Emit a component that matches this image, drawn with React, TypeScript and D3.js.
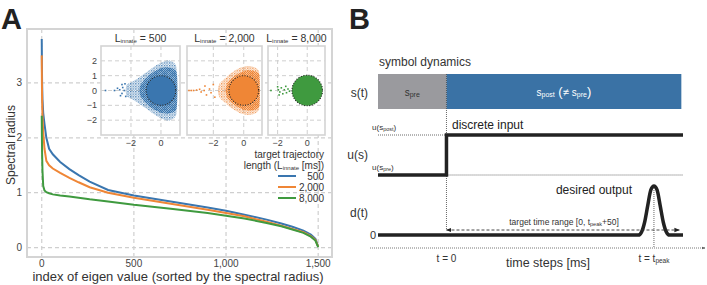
import React from "react";
import * as d3 from "d3";

const FONT = "'Liberation Sans', Arial, Helvetica, sans-serif";
const TICK = "#444";
const GRID = "#cfcfcf";
const FRAME = "#d4d4d4";

// ---- panel A: sorted spectral radius ----
const eigenIndex = [0, 1, 2, 4, 8, 15, 25, 40, 60, 100, 150, 200, 260, 360, 500, 700, 900, 1000, 1100, 1220, 1300, 1360, 1420, 1460, 1485, 1500];
const radius500 = [3.8, 3.3, 3.0, 2.7, 2.45, 2.25, 2.0, 1.8, 1.7, 1.56, 1.43, 1.32, 1.2, 1.05, 0.95, 0.84, 0.73, 0.67, 0.6, 0.51, 0.44, 0.38, 0.31, 0.24, 0.16, 0.02];
const radius2000 = [3.5, 3.0, 2.7, 2.4, 2.1, 1.8, 1.58, 1.5, 1.44, 1.36, 1.27, 1.19, 1.1, 1.0, 0.91, 0.8, 0.69, 0.63, 0.57, 0.47, 0.4, 0.34, 0.28, 0.21, 0.14, 0.02];
const radius8000 = [2.4, 2.0, 1.7, 1.4, 1.12, 1.04, 1.01, 0.99, 0.97, 0.95, 0.93, 0.91, 0.88, 0.84, 0.78, 0.71, 0.63, 0.58, 0.53, 0.45, 0.39, 0.33, 0.27, 0.2, 0.13, 0.01];
const seriesLabels = ["500", "2,000", "8,000"];
const seriesColors = ["#3a76af", "#ef8636", "#3f9a3f"];
const xTicksA = [0, 500, 1000, 1500];
const yTicksA = [0, 1, 2, 3];

// ---- insets: eigenvalues in the complex plane ----
const insetXTicks = [-2, 0];
const insetYTicks = [-2, -1, 0, 1, 2];
const diskRadius = [1, 1, 1.03];
const halo500: [number, number][] = [[1.05, 1.5], [0.6, 2.0], [0.2, 1.95], [-0.3, 1.7], [-0.8, 1.35], [-1.3, 1.0], [-1.8, 0.65], [-2.3, 0.35], [-2.3, -0.35], [-1.8, -0.65], [-1.3, -1.0], [-0.8, -1.35], [-0.3, -1.7], [0.2, -1.95], [0.6, -2.0], [1.05, -1.5]];
const haloCore500: [number, number][] = [[1.05, 1.2], [0.5, 1.55], [0.0, 1.5], [-0.6, 1.2], [-1.1, 0.75], [-1.4, 0.3], [-1.4, -0.3], [-1.1, -0.75], [-0.6, -1.2], [0.0, -1.5], [0.5, -1.55], [1.05, -1.2]];
const halo2000: [number, number][] = [[1.02, 1.2], [0.6, 1.6], [0.2, 1.65], [-0.3, 1.5], [-0.8, 1.2], [-1.2, 0.85], [-1.6, 0.45], [-1.7, 0], [-1.6, -0.45], [-1.2, -0.85], [-0.8, -1.2], [-0.3, -1.5], [0.2, -1.65], [0.6, -1.6], [1.02, -1.2]];
const haloCore2000: [number, number][] = [[1.02, 1.05], [0.5, 1.35], [0.0, 1.3], [-0.6, 1.0], [-1.05, 0.55], [-1.2, 0], [-1.05, -0.55], [-0.6, -1.0], [0.0, -1.3], [0.5, -1.35], [1.02, -1.05]];
const halo8000: [number, number][] = [];
const haloCore8000: [number, number][] = [];
const outliers500: [number, number][] = [[-3.7, 0], [-3.1, 0], [-2.75, 0.05], [-2.55, 0.2], [-2.6, -0.2], [-2.45, 0], [-2.4, 0.45], [-2.35, -0.4], [-2.6, 0.4], [-2.7, -0.35], [-2.9, 0.15]];
const outliers2000: [number, number][] = [[-3.6, 0], [-3.45, 0], [-3.3, 0], [-3.1, 0.03], [-2.9, 0.08], [-2.8, -0.1], [-2.55, 0.3], [-2.45, -0.3], [-2.25, 0.1], [-2.15, -0.15], [-2.0, 0.4], [-1.9, -0.45], [-2.6, 0]];
const outliers8000: [number, number][] = [[-2.45, 0], [-2.0, 0.25], [-1.95, 0.05], [-1.85, -0.1], [-1.75, 0.18], [-1.65, -0.22], [-1.55, 0.05], [-1.45, 0.28], [-1.4, -0.15], [-1.3, 0.1], [-1.2, -0.05], [-1.9, -0.3]];
const insetXDomains: [number, number][] = [[-4.0, 1.27], [-3.73, 1.2], [-2.65, 1.2]];

// ---- panel B: schematic ----
const symbolNames = ["pre", "post"];
const symbolStart = [-330, 0];
const symbolEnd = [0, 1132];
const inputTimes = [-330, 0, 1140];
const inputLevels = [0, 1, 1];
const outputTimes = [-330, 925, 940, 955, 970, 985, 1000, 1015, 1030, 1045, 1060, 1075, 1140];
const outputValues = [0, 0, 0.06, 0.26, 0.6, 0.92, 1, 0.92, 0.6, 0.26, 0.06, 0, 0];
const targetRange = [0, 1122];
const tPeak = 1000;

// base + small subscript, optional tail text back on the baseline
function Sub({ base, sub, size, subSize, dy = 2, tail, tailSize }: any) {
  return (
    <>
      <tspan fontSize={size}>{base}</tspan>
      <tspan fontSize={subSize} dy={dy}>{sub}</tspan>
      {tail && <tspan fontSize={tailSize || size} dy={-dy}>{tail}</tspan>}
    </>
  );
}

function Inset({ i, x0, x1 }: { i: number; x0: number; x1: number }) {
  const y0 = 46, y1 = 135;
  const xs = d3.scaleLinear().domain(insetXDomains[i]).range([x0, x1]);
  const ys = d3.scaleLinear().domain([-3, 3]).range([y1, y0]);
  const color = seriesColors[i];
  const halos = [halo500, halo2000, halo8000];
  const cores = [haloCore500, haloCore2000, haloCore8000];
  const outs = [outliers500, outliers2000, outliers8000];
  const haloPath = d3.line<[number, number]>().x((d) => xs(d[0])).y((d) => ys(d[1])).curve(d3.curveCardinalClosed.tension(0.3));
  const r = ys(0) - ys(diskRadius[i]);
  const clip = `inset-clip-${i}`;
  return (
    <g>
      <defs>
        <pattern id={`speck-${i}`} width={2.6} height={2.6} patternUnits="userSpaceOnUse">
          <rect x={0} y={0} width={1.3} height={1.3} fill={color} />
          <rect x={1.3} y={1.4} width={1.1} height={1.1} fill={color} opacity={0.75} />
        </pattern>
        <pattern id={`dense-${i}`} width={2} height={2} patternUnits="userSpaceOnUse">
          <rect x={0} y={0} width={1.4} height={1.4} fill={color} />
          <rect x={1} y={1} width={1} height={1} fill={color} />
        </pattern>
        <clipPath id={clip}>
          <rect x={x0} y={y0} width={x1 - x0} height={y1 - y0} />
        </clipPath>
      </defs>
      <rect x={x0} y={y0} width={x1 - x0} height={y1 - y0} fill="#fff" />
      {insetXTicks.map((t) => (
        <line key={"gx" + t} x1={xs(t)} x2={xs(t)} y1={y0} y2={y1} stroke={GRID} strokeDasharray="4,3" />
      ))}
      {insetYTicks.map((t) => (
        <line key={"gy" + t} x1={x0} x2={x1} y1={ys(t)} y2={ys(t)} stroke={GRID} strokeDasharray="4,3" />
      ))}
      <g clipPath={`url(#${clip})`}>
        {halos[i].length > 0 && <path d={haloPath(halos[i]) || ""} fill={`url(#speck-${i})`} />}
        {cores[i].length > 0 && <path d={haloPath(cores[i]) || ""} fill={`url(#dense-${i})`} />}
        {outs[i].map((p, k) => (
          <rect key={k} x={xs(p[0]) - 0.8} y={ys(p[1]) - 0.8} width={1.6} height={1.6} fill={color} />
        ))}
        <circle cx={xs(0)} cy={ys(0)} r={r} fill={color} />
        <circle cx={xs(0)} cy={ys(0)} r={r} fill="none" stroke="#222" strokeWidth={1.1} strokeDasharray="1,1.6" />
      </g>
      <rect x={x0} y={y0} width={x1 - x0} height={y1 - y0} fill="none" stroke={FRAME} strokeWidth={1.6} />
      {insetXTicks.map((t) => (
        <text key={"tx" + t} x={xs(t)} y={146} textAnchor="middle" fontSize={9} fill={TICK}>
          {t < 0 ? "\u2212" + Math.abs(t) : t}
        </text>
      ))}
      {i === 0 &&
        insetYTicks.map((t) => (
          <text key={"ty" + t} x={x0 - 4} y={ys(t) + 3} textAnchor="end" fontSize={9} fill={TICK}>
            {t < 0 ? "\u2212" + Math.abs(t) : t}
          </text>
        ))}
      <text x={(x0 + x1) / 2} y={42} textAnchor="middle" fontSize={10.5} fill="#333">
        <Sub base="L" sub="innate" size={10.5} subSize={6} dy={1} tail={" = " + seriesLabels[i]} />
      </text>
    </g>
  );
}

function PanelA() {
  const x = d3.scaleLinear().domain([-80, 1575]).range([27, 332]);
  const y = d3.scaleLinear().domain([-0.17, 3.98]).range([257, 29]);
  const series = [radius500, radius2000, radius8000];
  const line = d3.line<number>().x((_, k) => x(eigenIndex[k])).y((v) => y(v));
  const legendY = [176, 187, 198];
  return (
    <g>
      <text x={1} y={29} fontSize={29} fontWeight="bold" fill="#222">A</text>
      {yTicksA.map((t) => (
        <g key={"y" + t}>
          <line x1={27} x2={332} y1={y(t)} y2={y(t)} stroke={GRID} strokeDasharray="4,3" strokeWidth={1.2} />
          <text x={22} y={y(t) + 3.5} textAnchor="end" fontSize={10} fill={TICK}>{t}</text>
        </g>
      ))}
      {xTicksA.map((t) => (
        <g key={"x" + t}>
          <line x1={x(t)} x2={x(t)} y1={29} y2={257} stroke={GRID} strokeDasharray="4,3" strokeWidth={1.2} />
          <text x={x(t)} y={267} textAnchor="middle" fontSize={10} fill={TICK}>{d3.format(",")(t)}</text>
        </g>
      ))}
      {series.map((s, k) => (
        <path key={k} d={line(s) || ""} fill="none" stroke={seriesColors[k]} strokeWidth={2} />
      ))}
      <rect x={27} y={29} width={305} height={228} fill="none" stroke={FRAME} strokeWidth={2} />
      <text transform="translate(15,145) rotate(-90)" textAnchor="middle" fontSize={12} fill="#333">Spectral radius</text>
      <text x={178} y={281} textAnchor="middle" fontSize={13} fill="#333">index of eigen value (sorted by the spectral radius)</text>
      <Inset i={0} x0={101} x1={180} />
      <Inset i={1} x0={187} x1={262} />
      <Inset i={2} x0={268} x1={325} />
      <text x={324} y={158} textAnchor="end" fontSize={10} fill="#333">target trajectory</text>
      <text x={324} y={169} textAnchor="end" fontSize={10} fill="#333">
        <tspan>{"length ("}</tspan>
        <Sub base="L" sub="innate" size={10} subSize={6} dy={1} tail=" [ms])" />
      </text>
      {seriesLabels.map((l, k) => (
        <g key={l}>
          <line x1={278} x2={296} y1={legendY[k]} y2={legendY[k]} stroke={seriesColors[k]} strokeWidth={2} />
          <text x={324} y={legendY[k] + 3.5} textAnchor="end" fontSize={10} fill="#333">{l}</text>
        </g>
      ))}
    </g>
  );
}

function PanelB() {
  const t = d3.scaleLinear().domain([-330, 1140]).range([378, 683]);
  const u = d3.scaleLinear().domain([0, 1]).range([175, 135]);
  const dOut = d3.scaleLinear().domain([0, 1]).range([235, 186]);
  const inputLine = d3.line<number>().x((_, k) => t(inputTimes[k])).y((v) => u(v)).curve(d3.curveStepAfter);
  const outputLine = d3.line<number>().x((_, k) => t(outputTimes[k])).y((v) => dOut(v)).curve(d3.curveMonotoneX);
  const barTop = 74, barBottom = 109;
  const barColors = ["#9a9a9e", "#3a72a5"];
  const arrowY = 230;
  return (
    <g>
      <defs>
        <marker id="arrR" viewBox="0 0 10 10" refX={9} refY={5} markerWidth={6} markerHeight={6} orient="auto">
          <path d="M0,1 L10,5 L0,9 z" fill="#222" />
        </marker>
        <marker id="arrL" viewBox="0 0 10 10" refX={1} refY={5} markerWidth={6} markerHeight={6} orient="auto">
          <path d="M10,1 L0,5 L10,9 z" fill="#222" />
        </marker>
        <marker id="arrS" viewBox="0 0 10 10" refX={9} refY={5} markerWidth={4} markerHeight={4} orient="auto">
          <path d="M0,1 L10,5 L0,9 z" fill="#555" />
        </marker>
      </defs>
      <text x={349} y={29} fontSize={29} fontWeight="bold" fill="#222">B</text>
      <text x={379} y={66} fontSize={12} fill="#333">symbol dynamics</text>
      {symbolNames.map((n, k) => (
        <rect key={n} x={t(symbolStart[k])} y={barTop} width={t(symbolEnd[k]) - t(symbolStart[k])} height={barBottom - barTop} fill={barColors[k]} />
      ))}
      <text x={(t(symbolStart[0]) + t(symbolEnd[0])) / 2} y={96} textAnchor="middle" fontSize={10} fill="#333">
        <Sub base="s" sub={symbolNames[0]} size={10} subSize={7} dy={1} />
      </text>
      <text x={(t(symbolStart[1]) + t(symbolEnd[1])) / 2} y={96} textAnchor="middle" fontSize={10} fill="#fff">
        <Sub base="s" sub={symbolNames[1]} size={10} subSize={7} dy={1} tail=" (" tailSize={13} />
        <tspan fontSize={11}>{"\u2260 "}</tspan>
        <Sub base="s" sub={symbolNames[0]} size={10} subSize={7} dy={1} tail=")" tailSize={13} />
      </text>
      <text x={368} y={97} textAnchor="end" fontSize={12} fill="#333">s(t)</text>
      <text x={368} y={159} textAnchor="end" fontSize={12} fill="#333">u(s)</text>
      <text x={368} y={217} textAnchor="end" fontSize={12} fill="#333">d(t)</text>

      {/* guides */}
      <line x1={t(0)} x2={t(0)} y1={barTop} y2={arrowY} stroke="#444" strokeWidth={0.8} strokeDasharray="1,1" />
      <line x1={t(-330)} x2={t(0)} y1={u(1)} y2={u(1)} stroke="#444" strokeWidth={0.8} strokeDasharray="1,1" />
      <line x1={t(0)} x2={t(1140)} y1={u(0)} y2={u(0)} stroke="#444" strokeWidth={0.8} strokeDasharray="1,1" />
      <line x1={t(tPeak)} x2={t(tPeak)} y1={dOut(1)} y2={248} stroke="#444" strokeWidth={0.8} strokeDasharray="1,1" />
      <line x1={370} x2={705} y1={248} y2={248} stroke="#555" strokeWidth={0.8} strokeDasharray="1,1" markerEnd="url(#arrS)" />

      <text x={372} y={130} fontSize={8} fill="#333">
        <tspan>u(</tspan>
        <Sub base="s" sub="post" size={8} subSize={5.5} dy={0.5} tail=")" />
      </text>
      <text x={372} y={170} fontSize={8} fill="#333">
        <tspan>u(</tspan>
        <Sub base="s" sub="pre" size={8} subSize={5.5} dy={0.5} tail=")" />
      </text>
      <text x={452} y={129} fontSize={12} fill="#222">discrete input</text>
      <path d={inputLine(inputLevels) || ""} fill="none" stroke="#222" strokeWidth={3.5} />

      <text x={632} y={194} textAnchor="end" fontSize={12} fill="#222">desired output</text>
      <path d={outputLine(outputValues) || ""} fill="none" stroke="#222" strokeWidth={3.5} strokeLinejoin="round" />
      <text x={376} y={239} textAnchor="end" fontSize={11} fill="#333">0</text>
      <line x1={t(targetRange[0])} x2={t(targetRange[1])} y1={arrowY} y2={arrowY} stroke="#333" strokeWidth={0.9} strokeDasharray="3,2" markerStart="url(#arrL)" markerEnd="url(#arrR)" />
      <text x={564} y={225} textAnchor="middle" fontSize={8.5} fill="#333">
        <tspan>{"target time range [0, "}</tspan>
        <Sub base="t" sub="peak" size={8.5} subSize={5.5} dy={0.5} tail="+50]" />
      </text>

      <text x={t(0)} y={262} textAnchor="middle" fontSize={10} fill="#333">t = 0</text>
      <text x={t(tPeak)} y={262} textAnchor="middle" fontSize={10} fill="#333">
        <tspan>{"t = "}</tspan>
        <Sub base="t" sub="peak" size={10} subSize={6.5} dy={1} />
      </text>
      <text x={548} y={267} textAnchor="middle" fontSize={12.5} fill="#333">time steps [ms]</text>
    </g>
  );
}

export default function App() {
  return (
    <div style={{ position: "absolute", left: 0, top: 0 }}>
      <svg width={707} height={285} style={{ display: "block", fontFamily: FONT }}>
        <rect width={707} height={285} fill="#fff" />
        <PanelA />
        <PanelB />
      </svg>
    </div>
  );
}
